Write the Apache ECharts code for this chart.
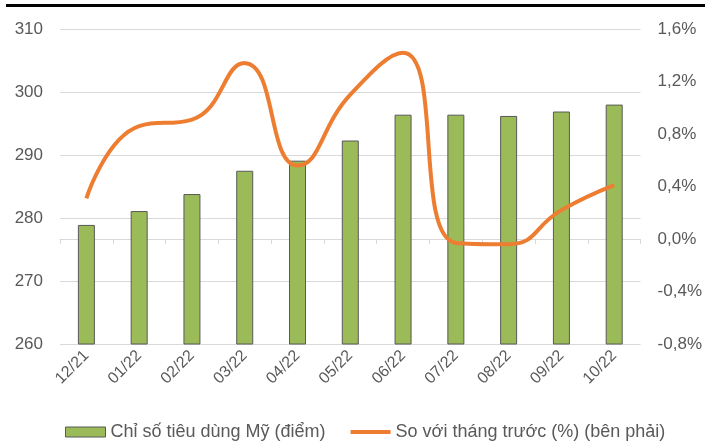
<!DOCTYPE html>
<html>
<head>
<meta charset="utf-8">
<script src="https://cdn.jsdelivr.net/npm/echarts@6/dist/echarts.min.js"></script>
<style>
  html, body { margin: 0; padding: 0; background: #fff; }
  #chart { width: 705px; height: 441px; }
</style>
</head>
<body>
<div id="chart"></div>
<script>
// CPI Mỹ theo tháng - cột (trục trái) + đường % so với tháng trước (trục phải)
const months = ['12/21', '01/22', '02/22', '03/22', '04/22', '05/22', '06/22', '07/22', '08/22', '09/22', '10/22'];
const cpiIndex = [278.9, 281.1, 283.8, 287.5, 289.1, 292.3, 296.4, 296.4, 296.2, 296.9, 298.0];
const momChange = [0.31, 0.86, 0.91, 1.34, 0.56, 1.10, 1.42, -0.03, -0.04, 0.22, 0.41];

const leftTicks = [260, 310, 10];
const rightTicks = [-0.8, 1.6, 0.4];

const barName = 'Chỉ số tiêu dùng Mỹ (điểm)';
const lineName = 'So với tháng trước (%) (bên phải)';

const textColor = '#595959';
const font = 'Liberation Sans, Arial, sans-serif';

// legend icon: thin horizontal stroke inside a 40x10 box
const lineIcon = 'path://M0,0L0.01,0M0,3L40,3L40,7L0,7ZM39.99,10L40,10';

const myChart = echarts.init(document.getElementById('chart'));

const option = {
  animation: false,
  textStyle: { fontFamily: font },
  graphic: [
    {
      type: 'rect',
      shape: { x: 6, y: 4, width: 699, height: 3 },
      style: { fill: '#000' }
    }
  ],
  grid: {
    left: 60,
    right: 62,
    top: 29,
    bottom: 97
  },
  legend: {
    left: 60,
    top: 418,
    itemGap: 25,
    itemWidth: 40,
    itemHeight: 10,
    textStyle: { color: textColor, fontSize: 18, fontFamily: font },
    data: [
      { name: barName, icon: 'rect', itemStyle: { color: '#9bbb59', borderColor: '#595959', borderWidth: 1 } },
      { name: lineName, icon: lineIcon, itemStyle: { color: '#ed7d31', borderWidth: 0 } }
    ]
  },
  xAxis: {
    type: 'category',
    data: months,
    axisLine: { lineStyle: { color: '#d9d9d9' } },
    axisTick: { show: true, length: 5, lineStyle: { color: '#d9d9d9' } },
    axisLabel: {
      color: textColor,
      fontSize: 16,
      rotate: 45,
      margin: 9,
      interval: 0
    }
  },
  yAxis: [
    {
      type: 'value',
      min: leftTicks[0],
      max: leftTicks[1],
      interval: leftTicks[2],
      axisLine: { show: false },
      axisTick: { show: false },
      splitLine: { lineStyle: { color: '#d9d9d9', width: 1 } },
      axisLabel: { color: textColor, fontSize: 17, margin: 17 }
    },
    {
      type: 'value',
      min: rightTicks[0],
      max: rightTicks[1],
      interval: rightTicks[2],
      axisLine: { show: false },
      axisTick: { show: false },
      splitLine: { show: false },
      axisLabel: {
        color: textColor,
        fontSize: 17,
        margin: 17,
        formatter: v => v.toFixed(1).replace('.', ',') + '%'
      }
    }
  ],
  series: [
    {
      name: barName,
      type: 'bar',
      yAxisIndex: 0,
      barWidth: 17,
      itemStyle: { color: '#9bbb59', borderColor: '#595959', borderWidth: 1 },
      data: cpiIndex
    },
    {
      name: lineName,
      type: 'line',
      yAxisIndex: 1,
      smooth: 0.5,
      showSymbol: false,
      symbol: 'none',
      lineStyle: { color: '#ed7d31', width: 4 },
      itemStyle: { color: '#ed7d31' },
      data: momChange
    }
  ]
};

myChart.setOption(option);
</script>
</body>
</html>
